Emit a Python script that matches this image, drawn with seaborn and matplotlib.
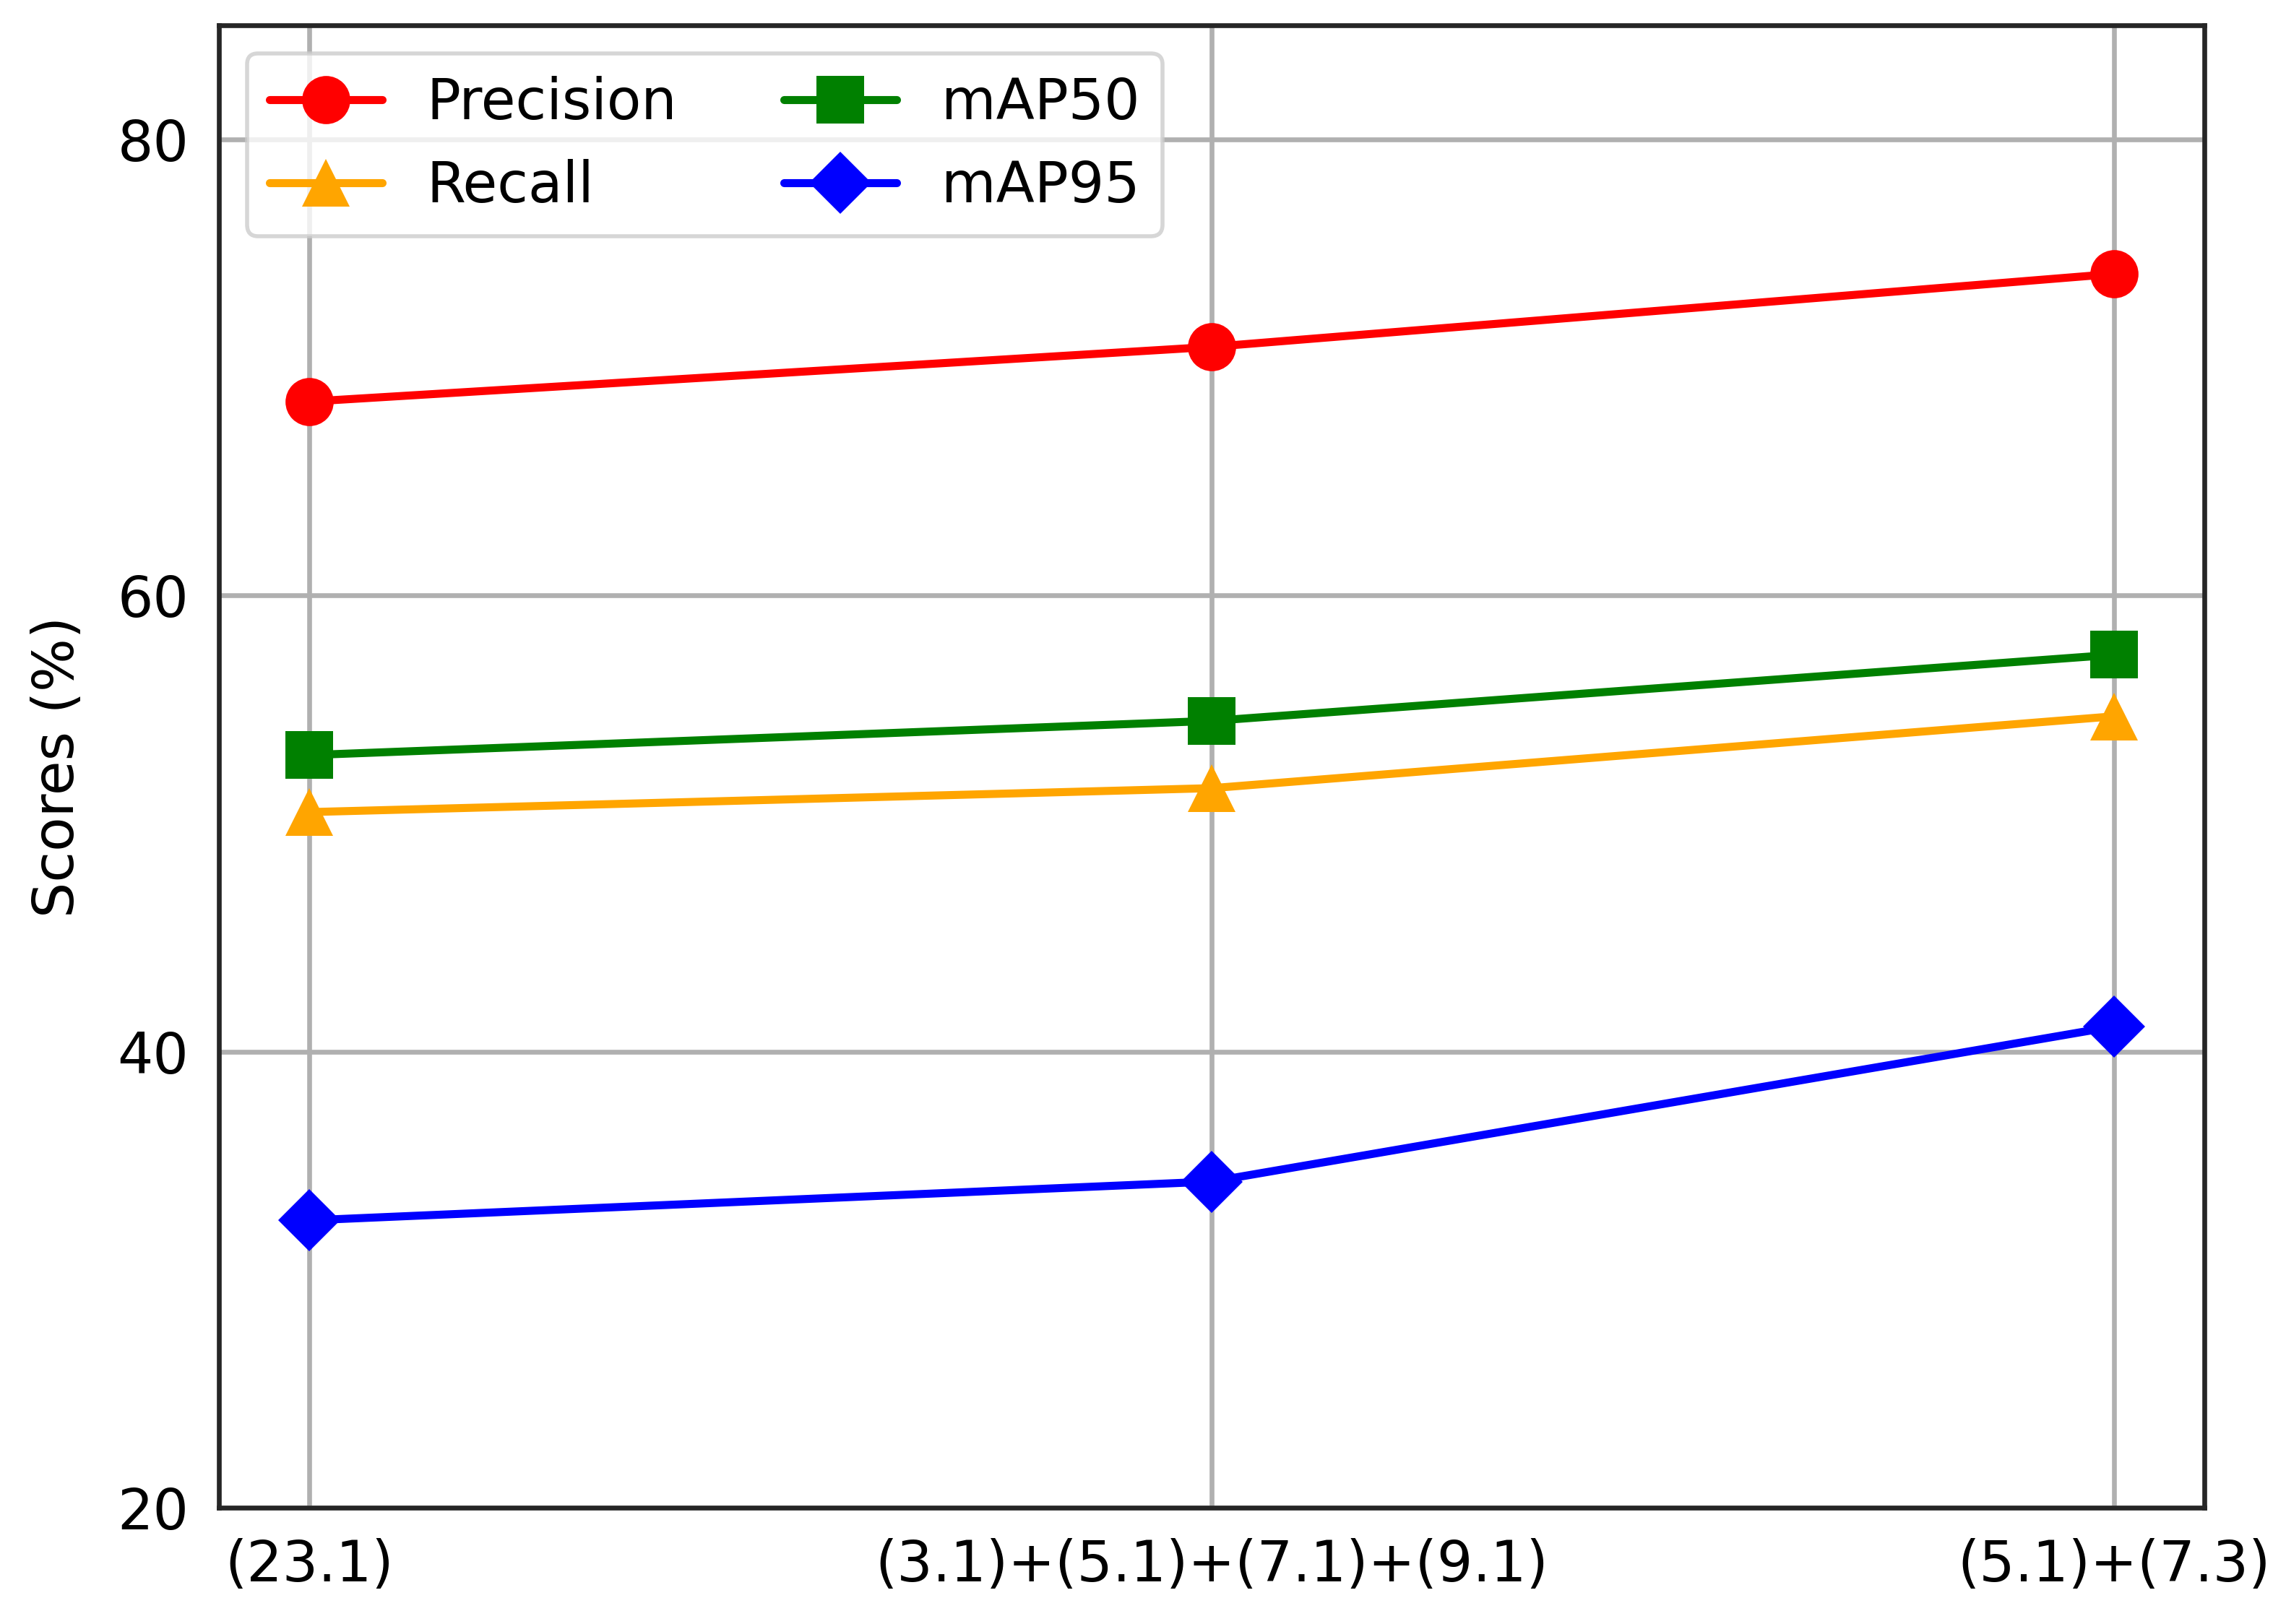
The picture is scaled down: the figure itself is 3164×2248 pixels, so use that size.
import matplotlib
matplotlib.use("Agg")
import matplotlib.pyplot as plt
import seaborn as sns
import pandas as pd

categories = ["(23.1)", "(3.1)+(5.1)+(7.1)+(9.1)", "(5.1)+(7.3)"]
precision = [68.5, 70.9, 74.1]
recall = [50.5, 51.55, 54.7]
map50 = [53.0, 54.5, 57.4]
map95 = [32.6, 34.3, 41.1]

series_names = ["Precision", "Recall", "mAP50", "mAP95"]
series_vals = [precision, recall, map50, map95]
colors = ["red", "orange", "green", "blue"]
markers = ["o", "^", "s", "D"]

rows = []
for name, vals in zip(series_names, series_vals):
    for i, v in enumerate(vals):
        rows.append({"x": i, "Score": v, "Metric": name})
df = pd.DataFrame(rows)

sns.set_style("white")
plt.rcParams['font.family'] = ['DejaVu Sans']
plt.rcParams['text.color'] = 'black'
plt.rcParams['axes.labelcolor'] = 'black'

fig = plt.figure(figsize=(3164 / 400, 2248 / 400), dpi=400)
ax = fig.add_axes([303 / 3164, 1 - 2087 / 2248, (3051 - 303) / 3164, (2087 - 35) / 2248])

for name, c, m in zip(series_names, colors, markers):
    sub = df[df["Metric"] == name]
    sns.lineplot(data=sub, x="x", y="Score", ax=ax, color=c, marker=m,
                 markersize=12 if m != "D" else 11, markeredgewidth=0,
                 linewidth=2, label=name, zorder=3)

ax.set_xlim(-0.1, 2.1)
ax.set_ylim(20, 85)
ax.set_xticks(range(len(categories)))
ax.set_xticklabels(categories, fontsize=14)
ax.set_yticks([20, 40, 60, 80])
ax.tick_params(axis='y', labelsize=14)
ax.tick_params(axis='both', direction='out', length=4, width=1, colors='#262626', labelcolor='black')
ax.set_xlabel("")
ax.set_ylabel("Scores (%)", fontsize=14, color='black', labelpad=8)
ax.grid(True, color='#b0b0b0', linewidth=1.2)
ax.set_axisbelow(True)
for s in ax.spines.values():
    s.set_visible(True)
    s.set_color('#262626')
    s.set_linewidth(1.2)

leg = ax.legend(loc='upper left', ncol=2, fontsize=14, frameon=True, fancybox=True,
                framealpha=0.8, edgecolor='#cccccc', columnspacing=1.9, handlelength=2.0)
for t in leg.get_texts():
    t.set_color('black')

fig.savefig("out.png", dpi=400)
